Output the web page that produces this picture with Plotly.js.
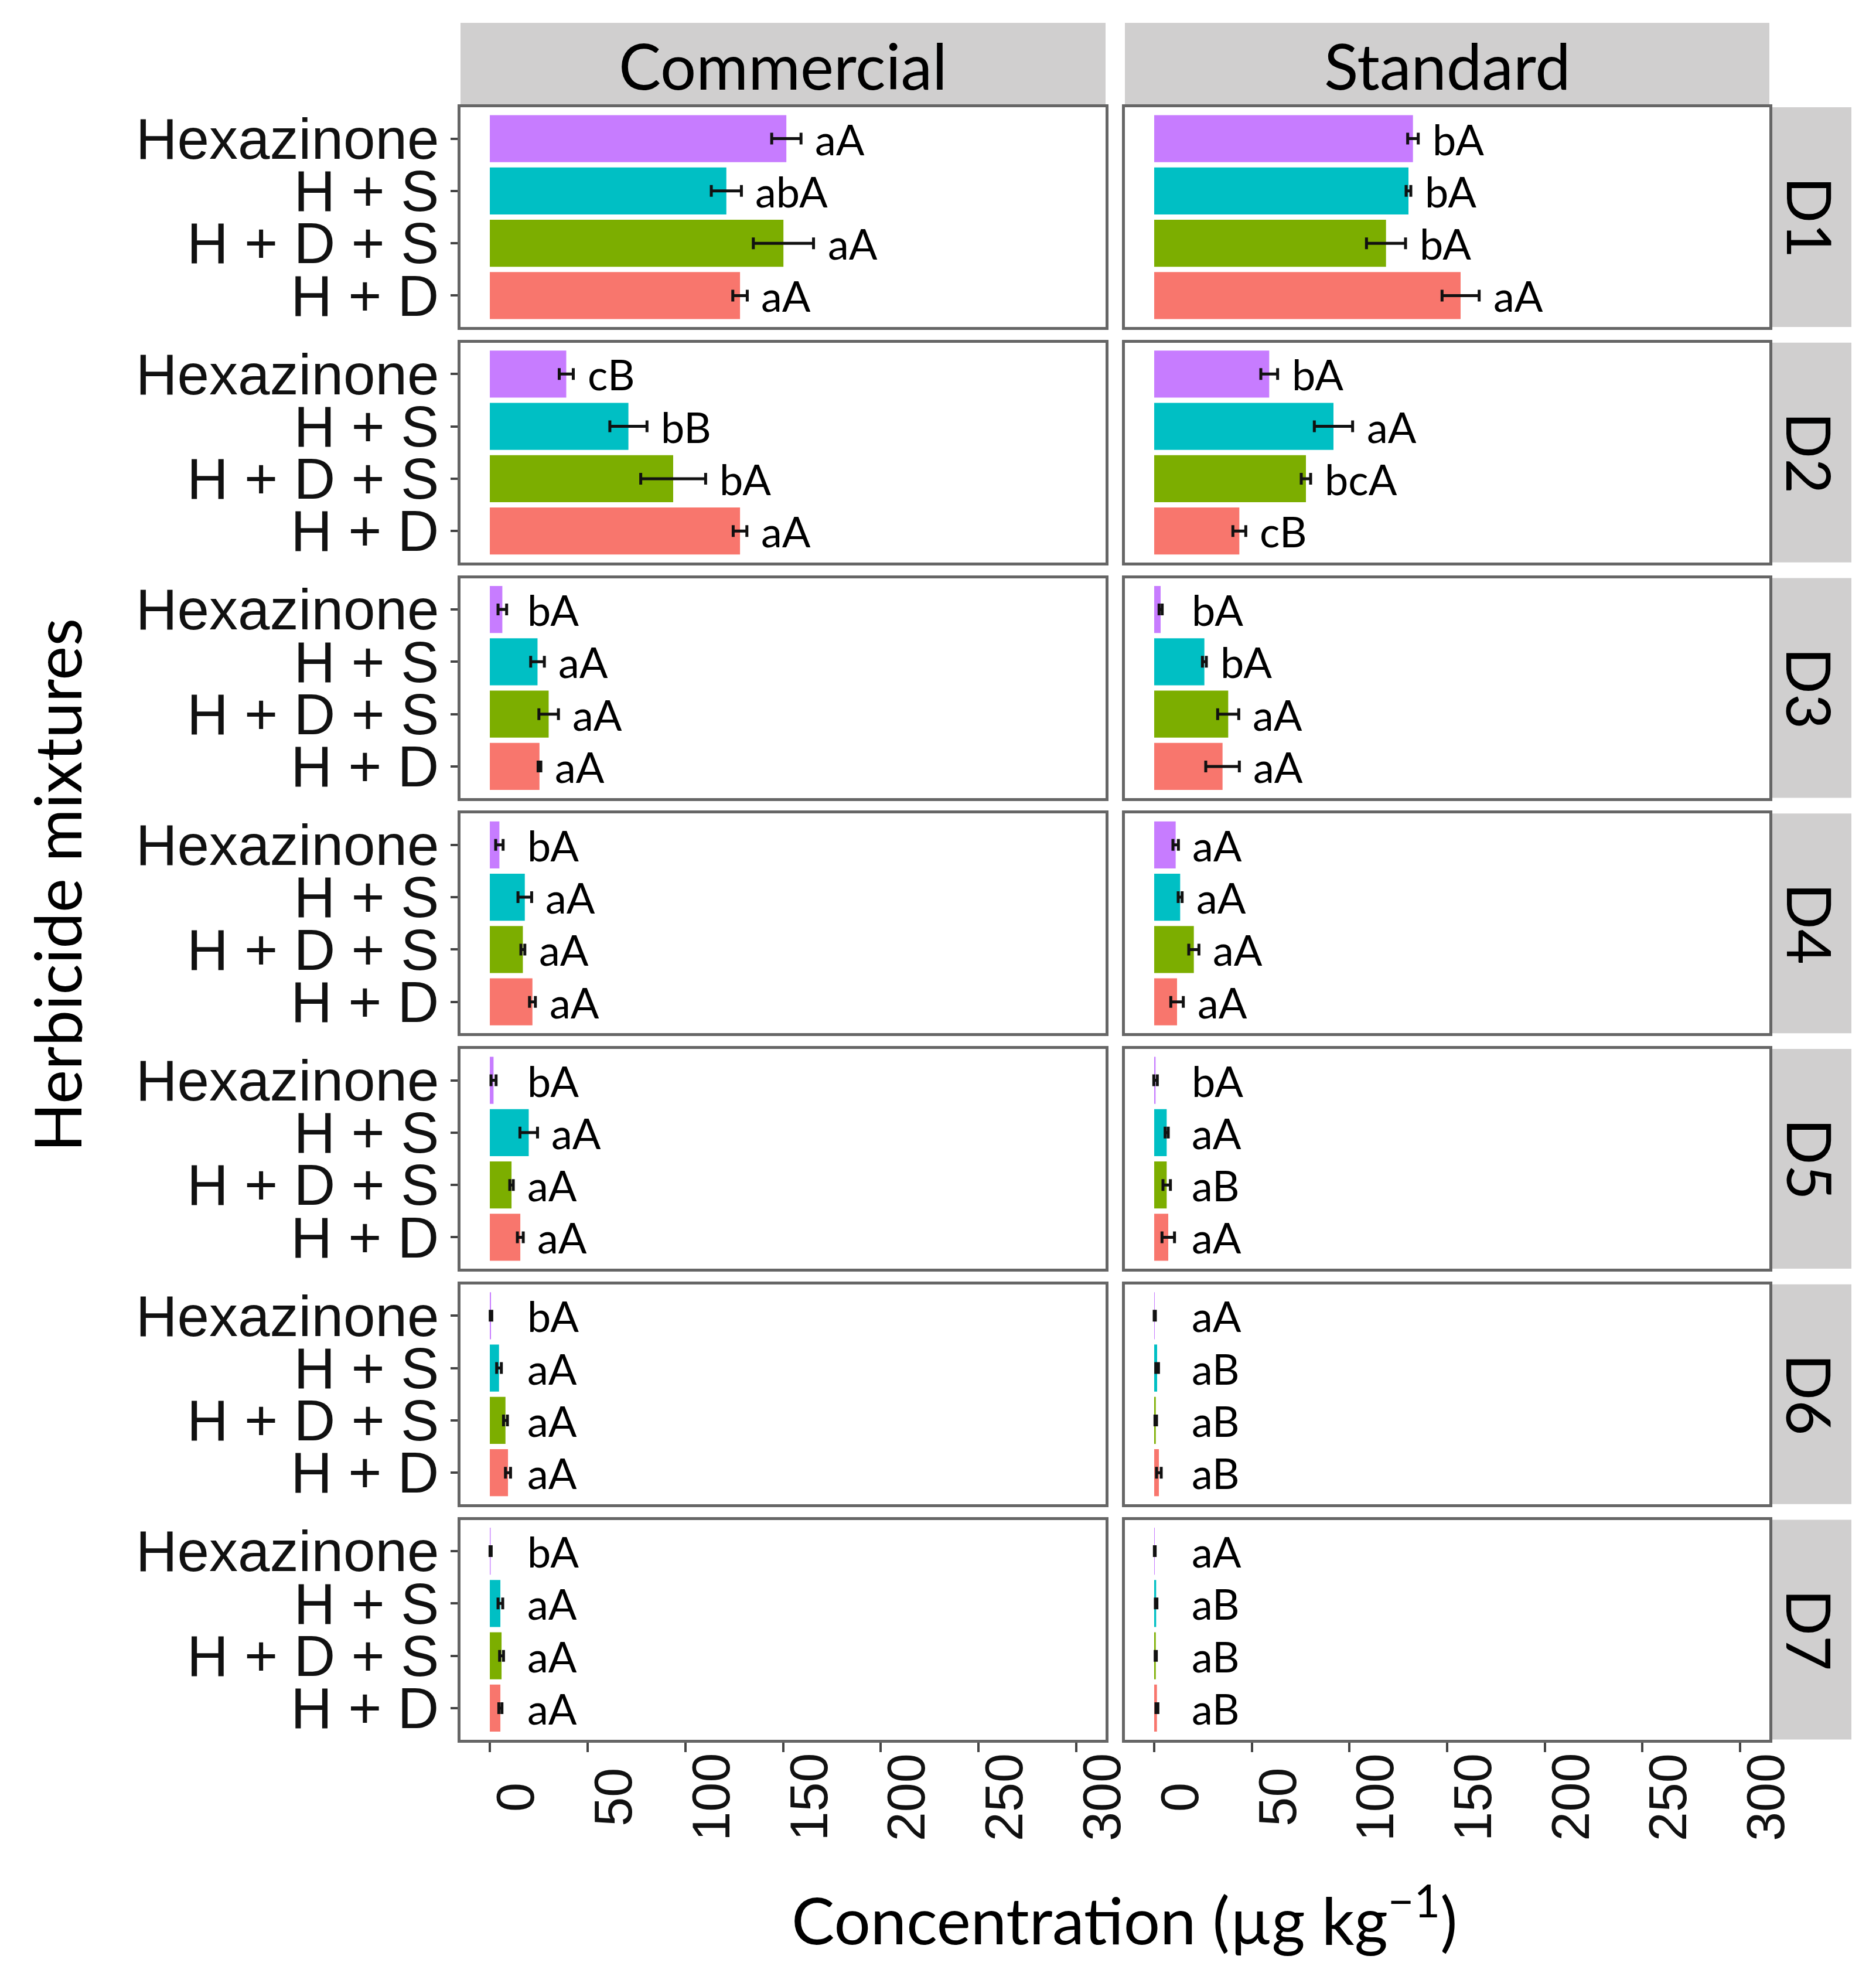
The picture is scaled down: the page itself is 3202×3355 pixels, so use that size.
<!DOCTYPE html>
<html><head><meta charset="utf-8">
<script src="https://cdn.plot.ly/plotly-3.0.1.min.js"></script>
<style>html,body{margin:0;padding:0;background:#fff}#chart{width:3202px;height:3355px}</style>
</head><body><div id="chart"></div>
<script>
// ---------- data ----------
const mixtures = ['Hexazinone', 'H + S', 'H + D + S', 'H + D'];
const mixtureColors = ['#C77CFF', '#00BFC4', '#7CAE00', '#F8766D'];
const days = ['D1', 'D2', 'D3', 'D4', 'D5', 'D6', 'D7'];
const sources = ['Commercial', 'Standard'];
const xTickVals = [0, 50, 100, 150, 200, 250, 300];
const xTickText = ['0', '50', '100', '150', '200', '250', '300'];

// rows = days, columns = mixtures (Hexazinone, H + S, H + D + S, H + D)
const commercialMean = [
  [151.7, 121.0, 150.2, 128.0],
  [39.1, 70.9, 93.8, 128.0],
  [6.4, 24.4, 30.1, 25.4],
  [4.9, 17.9, 16.9, 21.8],
  [1.9, 19.9, 11.1, 15.6],
  [0.6, 4.7, 8.0, 9.3],
  [0.4, 5.4, 6.0, 5.4]
];
const commercialSE = [
  [7.5, 7.7, 15.4, 3.7],
  [3.6, 9.5, 16.6, 3.5],
  [2.2, 3.5, 5.0, 0.7],
  [1.9, 3.5, 1.0, 1.5],
  [1.3, 4.5, 0.9, 1.5],
  [0.4, 1.2, 1.0, 1.3],
  [0.3, 1.2, 1.0, 0.8]
];
const commercialLetters = [
  ['aA', 'abA', 'aA', 'aA'],
  ['cB', 'bB', 'bA', 'aA'],
  ['bA', 'aA', 'aA', 'aA'],
  ['bA', 'aA', 'aA', 'aA'],
  ['bA', 'aA', 'aA', 'aA'],
  ['bA', 'aA', 'aA', 'aA'],
  ['bA', 'aA', 'aA', 'aA']
];
const standardMean = [
  [132.5, 130.2, 118.7, 156.9],
  [58.9, 91.8, 77.7, 43.6],
  [3.3, 25.7, 37.9, 35.0],
  [11.0, 13.3, 20.3, 11.7],
  [0.7, 6.4, 6.4, 7.2],
  [0.3, 1.5, 0.8, 2.4],
  [0.3, 1.0, 0.8, 1.4]
];
const standardSE = [
  [2.7, 1.2, 10.0, 9.5],
  [4.3, 9.8, 2.4, 3.3],
  [0.8, 1.0, 5.4, 8.6],
  [1.4, 1.0, 2.6, 3.2],
  [0.9, 0.8, 1.9, 3.2],
  [0.3, 0.7, 0.4, 1.2],
  [0.2, 0.4, 0.3, 0.5]
];
const standardLetters = [
  ['bA', 'bA', 'bA', 'aA'],
  ['bA', 'aA', 'bcA', 'cB'],
  ['bA', 'bA', 'aA', 'aA'],
  ['aA', 'aA', 'aA', 'aA'],
  ['bA', 'aA', 'aB', 'aA'],
  ['aA', 'aB', 'aB', 'aB'],
  ['aA', 'aB', 'aB', 'aB']
];

// ---------- layout geometry (pixels) ----------
const W = 3202, H = 3355;
const px = v => v / W;
const py = v => 1 - v / H;
const colX = [[786, 1887], [1920, 3020]];
const rowTop = r => 183 + r * 401.75;
const rowH = 375;
const stripTop = [39, 182];
const rightStrip = [3020, 3160];
const stripColor = '#D0CFCF';

const meanBy = [commercialMean, standardMean];
const seBy = [commercialSE, standardSE];
const letBy = [commercialLetters, standardLetters];

const traces = [];
const layout = {
  width: W, height: H,
  margin: {l: 0, r: 0, t: 0, b: 0},
  paper_bgcolor: '#ffffff', plot_bgcolor: '#ffffff',
  showlegend: false, hovermode: false,
  bargap: 0.1,
  annotations: [], shapes: []
};

const labelFont = {family: 'Lato, "Open Sans", sans-serif', size: 72, color: '#000'};
const titleFont = {family: 'Lato, "Open Sans", sans-serif', size: 110, color: '#000'};

for (let r = 0; r < days.length; r++) {
  for (let c = 0; c < sources.length; c++) {
    const n = r * 2 + c + 1;
    const xa = 'x' + n, ya = 'y' + n;
    const xk = n === 1 ? 'xaxis' : 'xaxis' + n;
    const yk = n === 1 ? 'yaxis' : 'yaxis' + n;
    const isBottom = r === days.length - 1;
    const isLeft = c === 0;
    layout[xk] = {
      domain: [px(colX[c][0]), px(colX[c][1])],
      anchor: ya,
      range: [-15, 315],
      tickmode: 'array',
      tickvals: xTickVals,
      showticklabels: false,
      ticks: isBottom ? 'outside' : '',
      ticklen: 16, tickwidth: 4, tickcolor: '#444',
      showgrid: false, zeroline: false,
      showline: true, mirror: true, linecolor: '#666', linewidth: 5,
      fixedrange: true
    };
    layout[yk] = {
      domain: [py(rowTop(r) + rowH), py(rowTop(r))],
      anchor: xa,
      type: 'category',
      categoryorder: 'array',
      categoryarray: mixtures.slice().reverse(),
      range: [-0.6, 3.6],
      tickmode: 'array',
      tickvals: mixtures,
      ticktext: mixtures,
      showticklabels: isLeft,
      tickfont: {family: '"Liberation Sans", Arial, sans-serif', size: 98, color: '#111'},
      ticks: isLeft ? 'outside' : '',
      ticklen: 12, tickwidth: 4, tickcolor: '#444',
      showgrid: false, zeroline: false,
      showline: true, mirror: true, linecolor: '#666', linewidth: 5,
      fixedrange: true
    };
    const means = meanBy[c][r], ses = seBy[c][r], lets = letBy[c][r];
    traces.push({
      type: 'bar', orientation: 'h',
      x: means, y: mixtures,
      xaxis: xa, yaxis: ya,
      width: 0.9,
      marker: {color: mixtureColors, line: {width: 0}},
      error_x: {type: 'data', array: ses, visible: true, color: '#111', thickness: 5, width: 10},
      hoverinfo: 'skip'
    });
    for (let k = 0; k < mixtures.length; k++) {
      layout.annotations.push({
        xref: xa, yref: ya,
        x: Math.max(means[k] + ses[k], 12), y: mixtures[k],
        xanchor: 'left', yanchor: 'middle', xshift: 22,
        text: lets[k], showarrow: false, font: labelFont
      });
    }
    if (isBottom) {
      for (let t = 0; t < xTickVals.length; t++) {
        layout.annotations.push({
          xref: xa, yref: 'paper',
          x: xTickVals[t], y: py(3067),
          xanchor: 'center', yanchor: 'middle', xshift: 44,
          textangle: -90,
          text: xTickText[t], showarrow: false,
          font: {family: '"Liberation Sans", Arial, sans-serif', size: 90, color: '#111'}
        });
      }
    }
  }
  // right strip
  layout.shapes.push({
    type: 'rect', xref: 'paper', yref: 'paper', layer: 'below',
    x0: px(rightStrip[0]), x1: px(rightStrip[1]),
    y0: py(rowTop(r) + rowH), y1: py(rowTop(r)),
    fillcolor: stripColor, line: {width: 0}
  });
  layout.annotations.push({
    xref: 'paper', yref: 'paper',
    x: px((rightStrip[0] + rightStrip[1]) / 2), y: py(rowTop(r) + rowH / 2),
    xanchor: 'center', yanchor: 'middle', textangle: 90,
    text: days[r], showarrow: false,
    font: {family: 'Lato, "Open Sans", sans-serif', size: 104, color: '#000'}
  });
}

// top strips
for (let c = 0; c < sources.length; c++) {
  layout.shapes.push({
    type: 'rect', xref: 'paper', yref: 'paper', layer: 'below',
    x0: px(colX[c][0]), x1: px(colX[c][1]),
    y0: py(stripTop[1]), y1: py(stripTop[0]),
    fillcolor: stripColor, line: {width: 0}
  });
  layout.annotations.push({
    xref: 'paper', yref: 'paper',
    x: px((colX[c][0] + colX[c][1]) / 2), y: py((stripTop[0] + stripTop[1]) / 2),
    xanchor: 'center', yanchor: 'middle',
    text: sources[c], showarrow: false, font: {family: 'Lato, "Open Sans", sans-serif', size: 108, color: '#000'}
  });
}

// axis titles
layout.annotations.push({
  xref: 'paper', yref: 'paper', x: px(96), y: py(1511),
  xanchor: 'center', yanchor: 'middle', textangle: -90,
  text: 'Herbicide mixtures', showarrow: false, font: titleFont
});
layout.annotations.push({
  xref: 'paper', yref: 'paper', x: px(1919), y: py(3268),
  xanchor: 'center', yanchor: 'middle',
  text: 'Concentration (µg kg<sup>−1</sup>)', showarrow: false, font: titleFont
});

Plotly.newPlot('chart', traces, layout, {staticPlot: true, displayModeBar: false});
</script>
</body></html>
